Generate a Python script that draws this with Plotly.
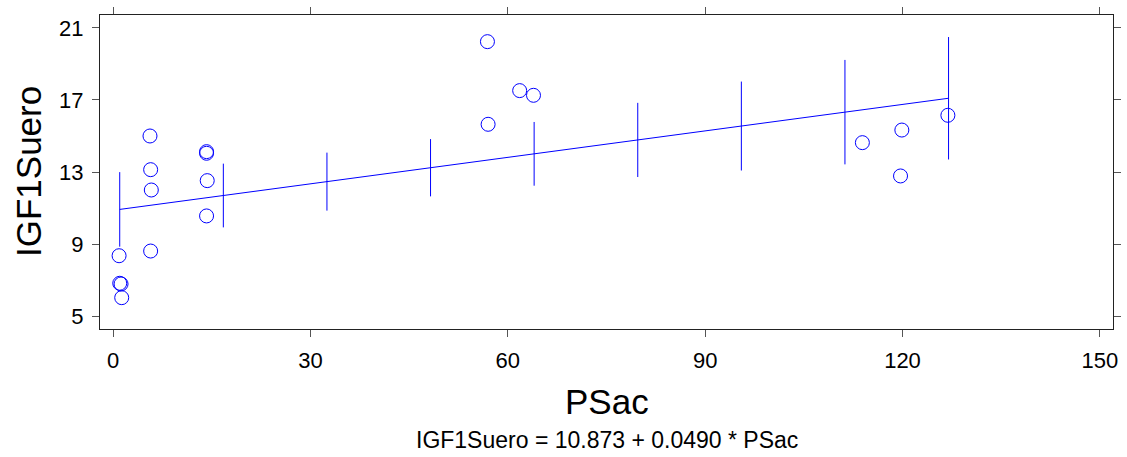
import plotly.graph_objects as go

# Observed data
psac = [0.9, 1.0, 1.2, 1.3,
        5.6, 5.7, 5.8, 5.7,
        14.2, 14.2, 14.3, 14.2,
        56.9, 61.8, 63.9, 57.0,
        113.9, 119.9, 119.7, 126.9]
igf1 = [8.35, 6.82, 6.78, 6.02,
        15.0, 13.13, 12.0, 8.61,
        14.13, 14.04, 12.52, 10.56,
        20.24, 17.52, 17.26, 15.65,
        14.63, 15.33, 12.78, 16.15]

# Fitted regression: IGF1Suero = 10.873 + 0.0490 * PSac
intercept = 10.873
slope = 0.0490
fit_x = [1, 127]

# Confidence interval half-widths at evenly spaced PSac values
ci_x = [1, 16.75, 32.5, 48.25, 64, 79.75, 95.5, 111.25, 127]
ci_half = [2.07, 1.77, 1.61, 1.59, 1.77, 2.06, 2.47, 2.9, 3.4]

x_ticks = [0, 30, 60, 90, 120, 150]
y_ticks = [5, 9, 13, 17, 21]

blue = "#0000FF"
font_family = "Liberation Sans, Arial, sans-serif"

fig = go.Figure()

fig.add_trace(go.Scatter(
    x=fit_x, y=[intercept + slope * v for v in fit_x],
    mode="lines", line=dict(color=blue, width=1),
    hoverinfo="skip", showlegend=False,
))

fig.add_trace(go.Scatter(
    x=ci_x, y=[intercept + slope * v for v in ci_x],
    mode="markers", marker=dict(size=1, color="rgba(0,0,0,0)"),
    error_y=dict(type="data", array=ci_half, symmetric=True,
                 color=blue, thickness=1, width=0),
    showlegend=False,
))

fig.add_trace(go.Scatter(
    x=psac, y=igf1, mode="markers",
    marker=dict(symbol="circle-open", size=14, color=blue,
                line=dict(color=blue, width=1)),
    showlegend=False,
))

axis_common = dict(
    showgrid=False, zeroline=False, automargin=False,
    showline=True, linecolor="#222222", linewidth=1, mirror="ticks",
    ticks="outside", ticklen=7, tickwidth=1, tickcolor="#555555",
    tickfont=dict(family=font_family, size=22, color="#000000"),
)

fig.update_xaxes(range=[-2.0, 152.0], tickvals=x_ticks,
                 ticklabelstandoff=5, **axis_common)
fig.update_yaxes(range=[4.28, 21.72], tickvals=y_ticks,
                 ticklabelstandoff=4, **axis_common)

fig.update_layout(
    width=1127, height=457,
    margin=dict(l=100, r=14, t=15, b=128),
    plot_bgcolor="white", paper_bgcolor="white",
    font=dict(family=font_family, color="#000000"),
    annotations=[
        dict(text="PSac", xref="paper", yref="paper", x=0.5, y=0,
             xanchor="center", yanchor="middle", yshift=-72,
             showarrow=False, font=dict(size=35)),
        dict(text="IGF1Suero = 10.873 + 0.0490 * PSac", xref="paper",
             yref="paper", x=0.5, y=0, xanchor="center", yanchor="middle",
             yshift=-111, showarrow=False, font=dict(size=23)),
        dict(text="IGF1Suero", xref="paper", yref="paper", x=0, y=0.5,
             xanchor="center", yanchor="middle", xshift=-72, textangle=-90,
             showarrow=False, font=dict(size=35)),
    ],
)

fig.write_html("out.html")
